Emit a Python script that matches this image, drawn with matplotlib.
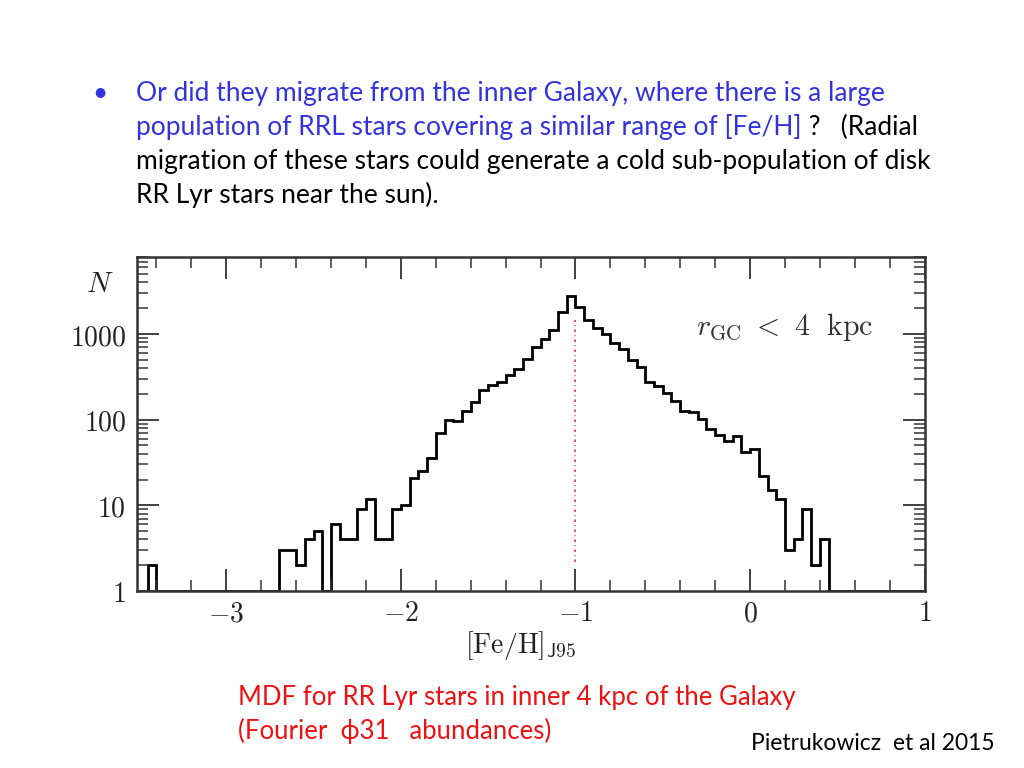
import numpy as np
import matplotlib
matplotlib.use("Agg")
import matplotlib.pyplot as plt
from matplotlib.ticker import FixedLocator, FuncFormatter, LogLocator, MultipleLocator

plt.rcParams['mathtext.fontset'] = 'cm'

# ---------------- data ----------------
bin_start = -3.50
bin_width = 0.05
counts = [0, 2] + [0] * 14 + [
    3, 3, 2, 4, 5, 0, 6, 4, 4, 9, 12, 4, 4, 9,          # -2.70 ... -2.05
    10, 21, 25, 36, 69, 99, 96, 126, 162, 220,          # -2.00 ... -1.55
    254, 273, 332, 390, 510, 711, 867, 1114, 1820, 2770,  # -1.50 ... -1.05
    2090, 1457, 1164, 1000, 778, 668, 497, 408, 278, 250,  # -1.00 ... -0.55
    204, 165, 126, 123, 103, 77, 66, 56, 64, 42,        # -0.50 ... -0.05
    45, 22, 15, 12, 3, 4, 9, 2, 4,                      # 0.00 ... 0.40
] + [0] * 11
counts = np.array(counts, dtype=float)
edges = bin_start + bin_width * np.arange(len(counts) + 1)

x_major = [-3, -2, -1, 0, 1]
y_major = [1, 10, 100, 1000]
peak_feh = -1.0
peak_line_range = (2.2, 1450)

# ---------------- figure ----------------
fig = plt.figure(figsize=(10.24, 7.68), dpi=100)
ax = fig.add_axes([0.134, 0.2305, 0.769, 0.4353])

ax.stairs(np.maximum(counts, 1), edges, baseline=None, color='black', lw=2.0)
ax.plot([peak_feh, peak_feh], peak_line_range, color='#dd3366', lw=1.2,
        ls=(0, (1.5, 2, 0.5, 2)))

ax.set_yscale('log')
ax.set_xlim(-3.51, 1.0)
ax.set_ylim(1, 8000)

ax.xaxis.set_major_locator(FixedLocator(x_major))
ax.xaxis.set_minor_locator(MultipleLocator(0.2))
ax.yaxis.set_major_locator(FixedLocator(y_major))
ax.yaxis.set_minor_locator(LogLocator(base=10, subs=np.arange(2, 10)))
ax.xaxis.set_major_formatter(FuncFormatter(lambda v, p: r'$%g$' % v))
ax.yaxis.set_major_formatter(FuncFormatter(lambda v, p: r'$%g$' % v))
ax.yaxis.set_minor_formatter(FuncFormatter(lambda v, p: ''))

ax.tick_params(which='both', direction='in', top=True, right=True,
               color='#333333', labelsize=20, labelcolor='#222222')
ax.tick_params(which='major', length=16, width=1.3)
ax.tick_params(axis='x', which='major', pad=6)
ax.tick_params(axis='y', which='major', pad=8)
ax.tick_params(which='minor', length=8, width=1.1)
for s in ax.spines.values():
    s.set_linewidth(1.8)
    s.set_color('#333333')

ax.set_xlabel(r'$[\mathrm{Fe/H}]_{\mathsf{J95}}$', fontsize=20, color='#222222')
ax.xaxis.set_label_coords(0.487, -0.115)

fig.text(100 / 1024, 1 - 284 / 768, r'$N$', fontsize=21, ha='center',
         va='center', color='#222222')
ax.text(-0.31, 1200, r'$r_{\rm GC}\ <\ 4\ \ {\rm kpc}$', fontsize=21.5,
        ha='left', va='center', color='#333333')

# ---------------- slide text ----------------
blue = '#3333dd'
red = '#ee1111'
fs = 19
tx = 136 / 1024
fig.text(100 / 1024, 1 - 93 / 768, u'\u2022', fontsize=fs, color=blue,
         ha='center', va='center', family='Lato')
lines_y = [93, 127, 161, 195]
fig.text(tx, 1 - lines_y[0] / 768,
         'Or did they migrate from the inner Galaxy, where there is a large',
         fontsize=fs, color=blue, va='center', family='Lato')
t2 = fig.text(tx, 1 - lines_y[1] / 768,
              'population of RRL stars covering a similar range of [Fe/H]',
              fontsize=fs, color=blue, va='center', family='Lato')
fig.canvas.draw()
bb = t2.get_window_extent()
fig.text(bb.x1 / 1024, 1 - lines_y[1] / 768, ' ?   (Radial',
         fontsize=fs, color='black', va='center', family='Lato')
fig.text(tx, 1 - lines_y[2] / 768,
         'migration of these stars could generate a cold sub-population of disk',
         fontsize=fs, color='black', va='center', family='Lato')
fig.text(tx, 1 - lines_y[3] / 768, 'RR Lyr stars near the sun).',
         fontsize=fs, color='black', va='center', family='Lato')

fig.text(238 / 1024, 1 - 697 / 768,
         'MDF for RR Lyr stars in inner 4 kpc of the Galaxy',
         fontsize=18.5, color=red, va='center', family='Lato')
fig.text(238 / 1024, 1 - 731 / 768,
         u'(Fourier  \u03d531   abundances)',
         fontsize=18.5, color=red, va='center', family=['Lato', 'DejaVu Sans'])
fig.text(995 / 1024, 1 - 743 / 768, 'Pietrukowicz  et al 2015',
         fontsize=16.5, color='black', va='center', ha='right', family='Lato')

fig.savefig('out.png', dpi=100)
